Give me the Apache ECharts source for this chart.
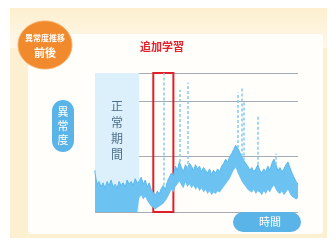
<!DOCTYPE html>
<html>
<head>
<meta charset="utf-8">
<script src="https://cdn.jsdelivr.net/npm/echarts@6/dist/echarts.min.js"></script>
<style>
  html, body { margin: 0; padding: 0; background: #fff; }
  #main { width: 335px; height: 240px; }
</style>
</head>
<body>
<div id="main"></div>
<script>
// 異常度の推移（追加学習前後）
var xIndex = [];
for (var k = 0; k < 102; k++) xIndex.push(k);

// 上端・下端（異常度）
var upper = [28, 20, 22, 18, 21, 17, 22, 19, 23, 18, 20, 17, 22, 19, 21, 18, 23, 20, 22, 19, 24, 21,
  22, 25, 20, 23, 18, 21, 16, 14, 12, 15, 13, 17, 19, 16, 22, 25, 28, 26, 33, 30, 36, 32, 29, 34, 31,
  35, 33, 30, 34, 31, 33, 29, 32, 30, 28, 31, 27, 30, 28, 31, 29, 33, 35, 38, 36, 40, 42, 45, 48, 46,
  43, 40, 37, 35, 33, 30, 32, 29, 31, 34, 30, 28, 31, 29, 33, 30, 35, 38, 34, 30, 32, 29, 31, 34, 36,
  32, 28, 25, 22, 20];
var lower = [0, 0, 0, 0, 0, 0, 0, 0, 0, 0, 0, 0, 0, 0, 0, 0, 0, 0, 0, 0, 0, 0,
  10, 12, 9, 11, 8, 6, 4, 3, 2, 3, 4, 5, 6, 8, 10, 13, 16, 14, 18, 20, 22, 19, 17, 21, 18,
  20, 17, 19, 16, 18, 15, 17, 14, 16, 13, 15, 12, 14, 13, 15, 14, 16, 18, 20, 22, 24, 27, 30, 32, 28,
  25, 22, 20, 18, 16, 15, 14, 16, 13, 15, 14, 12, 15, 13, 16, 14, 17, 19, 16, 14, 13, 15, 12, 14, 16,
  13, 11, 10, 9, 10];
// スパイク [位置, 頂点]
var spikes = [[0, 30], [34, 100], [42, 88], [46, 93], [71, 86], [73, 89], [74, 80], [81, 70], [90, 42]];
var normalEnd = 21.5;        // 正常期間の終わり
var retrain = [28.5, 39];    // 追加学習の範囲

var band = upper.map(function (v, i) { return v - lower[i]; });

var chart = echarts.init(document.getElementById('main'));
var blue = '#5bb9ef';
var option = {
  animation: false,
  grid: { left: 95, right: 37, top: 73, bottom: 28 },
  xAxis: {
    type: 'category',
    data: xIndex,
    boundaryGap: false,
    axisLine: { show: false },
    axisTick: { show: false },
    axisLabel: { show: false }
  },
  yAxis: {
    type: 'value',
    min: 0,
    max: 100,
    interval: 40,
    axisLabel: { show: false },
    splitLine: { lineStyle: { color: '#a3acb5', width: 1 } }
  },
  graphic: [
    { type: 'rect', shape: { x: 10, y: 8, width: 317, height: 230 }, style: { fill: '#fdf0d2' }, z: -10 },
    { type: 'rect', shape: { x: 10, y: 8, width: 317, height: 40 },
      style: { fill: new echarts.graphic.LinearGradient(0, 0, 0, 1, [
        { offset: 0, color: '#fdefcf' }, { offset: 1, color: '#fef8ea' }]) }, z: -9 },
    { type: 'rect', shape: { x: 28, y: 34, width: 295, height: 200, r: 4 }, style: { fill: '#fffefb' }, z: -8 },
    { type: 'ellipse', shape: { cx: 45, cy: 45, rx: 27, ry: 24 }, style: { fill: '#f08a2c', stroke: '#f7b06a', lineWidth: 1 }, z: 10 },
    { type: 'text', x: 45, y: 38, style: { text: '異常度推移', fill: '#fff', font: 'bold 8px "Noto Sans CJK JP"', align: 'center', verticalAlign: 'middle' }, z: 11 },
    { type: 'text', x: 45, y: 53, style: { text: '前後', fill: '#fff', font: 'bold 11px "Noto Sans CJK JP"', align: 'center', verticalAlign: 'middle' }, z: 11 },
    { type: 'text', x: 162, y: 47, style: { text: '追加学習', fill: '#e4222b', font: 'bold 11px "Noto Sans CJK JP"', align: 'center', verticalAlign: 'middle' }, z: 11 },
    { type: 'rect', shape: { x: 52, y: 100, width: 22, height: 52, r: 11 }, style: { fill: '#5ab4e8' }, z: 10 },
    { type: 'text', x: 63, y: 126, style: { text: '異\n常\n度', fill: '#fff', font: '11px "Noto Sans CJK JP"', lineHeight: 14, align: 'center', verticalAlign: 'middle' }, z: 11 },
    { type: 'rect', shape: { x: 233, y: 212, width: 68, height: 20, r: 10 }, style: { fill: '#5ab4e8' }, z: 10 },
    { type: 'text', x: 270, y: 222, style: { text: '時間', fill: '#fff', font: '11px "Noto Sans CJK JP"', align: 'center', verticalAlign: 'middle' }, z: 11 },
    { type: 'text', x: 117, y: 130, style: { text: '正\n常\n期\n間', fill: '#4f6f8f', font: '12px "Noto Sans CJK JP"', lineHeight: 16, align: 'center', verticalAlign: 'middle' }, z: 11 }
  ],
  series: [
    {
      name: 'base',
      type: 'line',
      stack: 'a',
      data: lower,
      symbol: 'none',
      lineStyle: { opacity: 0 },
      z: 3,
      markArea: {
        silent: true,
        itemStyle: { color: '#dcf0fb' },
        data: [[{ xAxis: 0, yAxis: -4 }, { xAxis: normalEnd, yAxis: 107 }]]
      }
    },
    {
      name: '異常度',
      type: 'line',
      stack: 'a',
      data: band,
      symbol: 'none',
      lineStyle: { color: blue, width: 1 },
      areaStyle: { color: '#6cc2f1', opacity: 1 },
      z: 4,
      markLine: {
        silent: true,
        symbol: 'none',
        lineStyle: { color: '#86caf0', width: 1.5, type: [3, 2] },
        label: { show: false },
        data: spikes.map(function (s) {
          return [{ coord: [s[0], upper[s[0]]] }, { coord: [s[0], s[1]] }];
        })
      },
      markArea: {
        silent: true,
        itemStyle: { color: 'rgba(0,0,0,0)', borderColor: '#e02028', borderWidth: 2 },
        data: [[{ xAxis: retrain[0], yAxis: -2 }, { xAxis: retrain[1], yAxis: 107 }]]
      }
    }
  ]
};
chart.setOption(option);
</script>
</body>
</html>
